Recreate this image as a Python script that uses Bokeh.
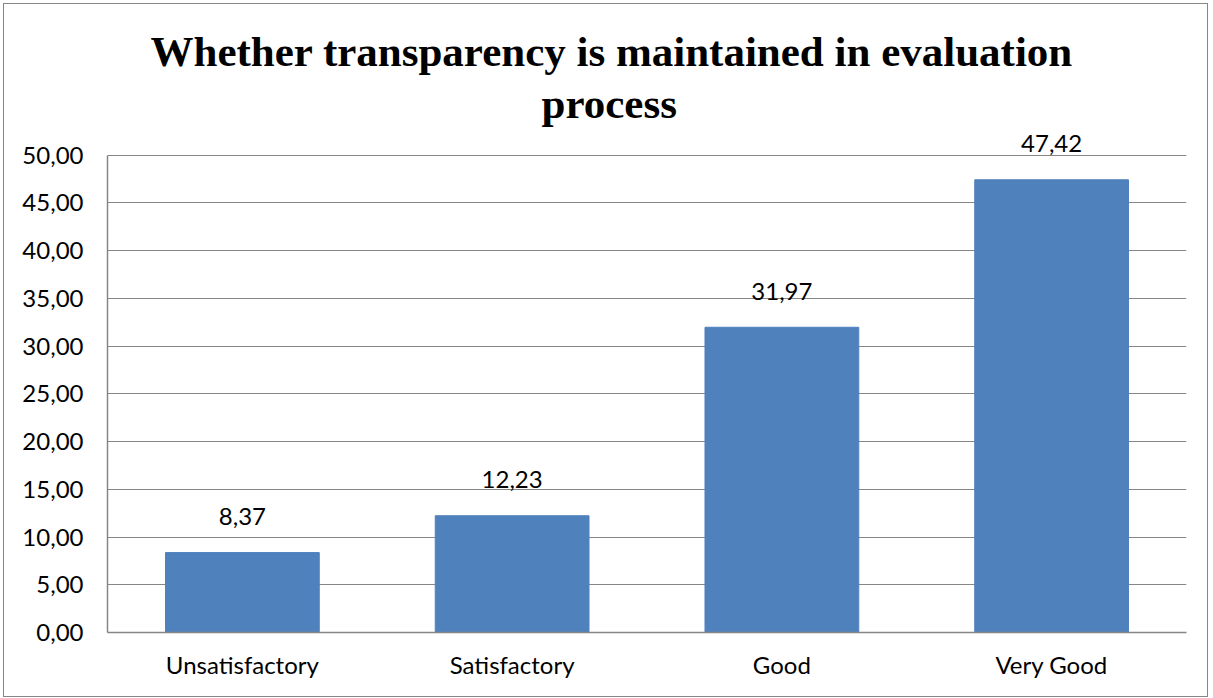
from bokeh.plotting import figure
from bokeh.models import ColumnDataSource, FixedTicker, LabelSet, FactorRange, Range1d, Title
from bokeh.core.properties import value
from bokeh.embed import file_html
from bokeh.resources import INLINE

categories = ["Unsatisfactory", "Satisfactory", "Good", "Very Good"]
values = [8.37, 12.23, 31.97, 47.42]
value_labels = ["8,37", "12,23", "31,97", "47,42"]
y_ticks = [0, 5, 10, 15, 20, 25, 30, 35, 40, 45, 50]
y_tick_labels = ["0,00", "5,00", "10,00", "15,00", "20,00", "25,00",
                 "30,00", "35,00", "40,00", "45,00", "50,00"]
title_line1 = "Whether transparency is maintained in evaluation"
title_line2 = "process"

FONT = "Lato"
GRID = "#868686"

src = ColumnDataSource(dict(cat=categories, val=values, lab=value_labels))

p = figure(x_range=FactorRange(*categories, range_padding=0),
           y_range=Range1d(0, 53),
           width=1205, height=694, output_backend="svg", toolbar_location=None,
           min_border_left=103, min_border_right=23, min_border_top=122, min_border_bottom=66)
p.styles = {"border": "1px solid #868686", "margin-left": "3px", "margin-top": "3px"}
p.background_fill_color = "white"
p.border_fill_color = "white"
p.outline_line_color = None

p.title.text = title_line1
p.title.align = "left"
p.title.offset = 43
p.title.text_font = "Liberation Serif"
p.title.text_font_style = "bold"
p.title.text_font_size = "43px"
p.title.text_color = "black"
p.title.standoff = 5

t2 = Title(text=title_line2, align="left", offset=434, text_font="Liberation Serif",
           text_font_style="bold", text_font_size="43px", text_color="black", standoff=0)
p.add_layout(t2, "above")

p.vbar(x="cat", top="val", width=0.57, source=src, fill_color="#4F81BD", line_color="#4F81BD")

labels = LabelSet(x="cat", y="val", text="lab", source=src, text_align="center",
                  text_baseline="middle", y_offset=36, text_font=value(FONT),
                  text_font_size=value("24px"), text_color="black")
p.add_layout(labels)

p.yaxis.ticker = FixedTicker(ticks=y_ticks)
p.yaxis.bounds = (0, 50)
p.yaxis.major_label_overrides = {t: l for t, l in zip(y_ticks, y_tick_labels)}
p.yaxis.major_tick_in = 0
p.yaxis.major_tick_out = 0
p.yaxis.minor_tick_line_color = None
p.yaxis.axis_line_color = GRID
p.yaxis.axis_line_width = 1.5
p.yaxis.major_label_standoff = 24
p.yaxis.major_label_text_font = FONT
p.yaxis.major_label_text_font_size = "24px"
p.yaxis.major_label_text_color = "black"

p.xaxis.major_tick_in = 0
p.xaxis.major_tick_out = 0
p.xaxis.axis_line_color = GRID
p.xaxis.axis_line_width = 1.5
p.xaxis.major_label_standoff = 17
p.xaxis.major_label_text_font = FONT
p.xaxis.major_label_text_font_size = "24px"
p.xaxis.major_label_text_color = "black"

p.xgrid.grid_line_color = None
p.ygrid.grid_line_color = GRID
p.ygrid.grid_line_width = 1.2
p.ygrid.bounds = (0, 50)

open("out.html", "w").write(file_html(p, INLINE))
